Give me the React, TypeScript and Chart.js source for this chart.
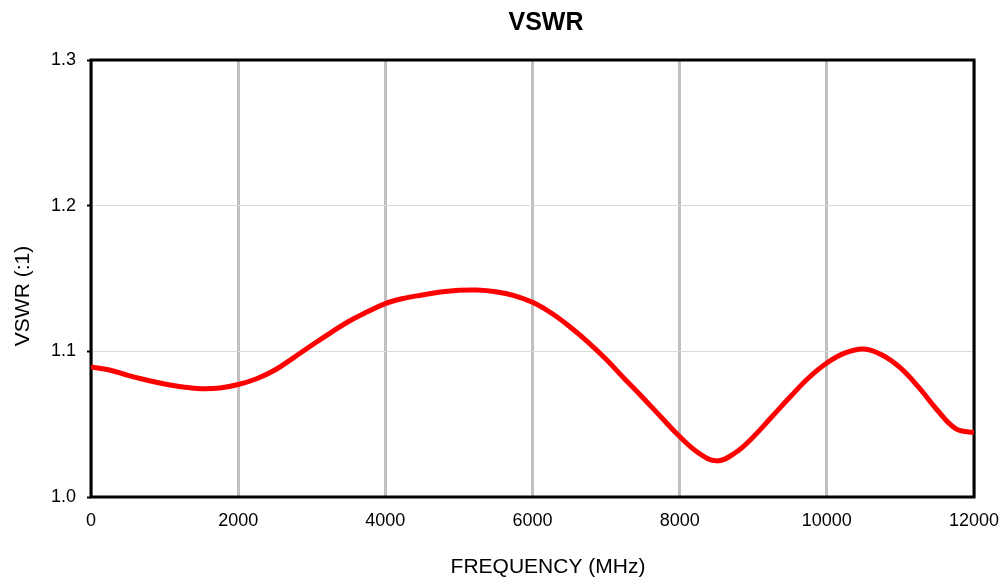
import React, { useEffect, useRef } from "react";
import { Chart, registerables } from "chart.js";

Chart.register(...registerables);

const frequencies: number[] = [
  0, 250, 500, 750, 1000, 1250, 1500, 1750, 2000, 2250, 2500, 2750, 3000, 3250, 3500, 3750,
  4000, 4250, 4500, 4750, 5000, 5250, 5500, 5750, 6000, 6250, 6500, 6750, 7000, 7250, 7500,
  7750, 8000, 8250, 8500, 8750, 9000, 9250, 9500, 9750, 10000, 10250, 10500, 10750, 11000,
  11250, 11500, 11750, 12000,
];

const vswrValues: number[] = [
  1.0892, 1.0872, 1.0835, 1.0803, 1.0776, 1.0755, 1.0743, 1.0748, 1.0772, 1.0812, 1.0872,
  1.0955, 1.1042, 1.1125, 1.1205, 1.127, 1.1328, 1.1364, 1.1387, 1.1407, 1.1419, 1.1421,
  1.1409, 1.1383, 1.1337, 1.1265, 1.1172, 1.1065, 1.0945, 1.0812, 1.0682, 1.0547, 1.0415,
  1.0305, 1.0248, 1.0302, 1.0412, 1.0549, 1.0686, 1.0817, 1.092, 1.0989, 1.1016, 1.0975,
  1.0886, 1.0752, 1.0597, 1.047, 1.0442,
];

const chartTitle = "VSWR";
const xAxisTitle = "FREQUENCY (MHz)";
const yAxisTitle = "VSWR (:1)";

const xMin = 0;
const xMax = 12000;
const xStep = 2000;
const yMin = 1.0;
const yMax = 1.3;
const yStep = 0.1;

const FONT = "'Liberation Sans', Arial, sans-serif";

const decorPlugin = {
  id: "decor",
  beforeDatasetsDraw(chart: any) {
    const { ctx, chartArea } = chart;
    ctx.save();
    ctx.strokeStyle = "#000000";
    ctx.lineWidth = 3;
    ctx.strokeRect(
      chartArea.left,
      chartArea.top,
      chartArea.right - chartArea.left,
      chartArea.bottom - chartArea.top
    );
    ctx.restore();
  },
  afterDraw(chart: any) {
    const { ctx } = chart;
    ctx.save();
    ctx.fillStyle = "#000000";
    ctx.textAlign = "center";
    ctx.textBaseline = "alphabetic";
    ctx.font = `bold 25px ${FONT}`;
    ctx.fillText(chartTitle, 546, 30);
    ctx.font = `21px ${FONT}`;
    ctx.fillText(xAxisTitle, 548, 573);
    ctx.translate(28.5, 296);
    ctx.rotate(-Math.PI / 2);
    ctx.fillText(yAxisTitle, 0, 0);
    ctx.restore();
  },
};

export default function App() {
  const canvasRef = useRef<HTMLCanvasElement | null>(null);

  useEffect(() => {
    if (!canvasRef.current) return;
    const data = frequencies.map((f, i) => ({ x: f, y: vswrValues[i] }));
    const chart = new Chart(canvasRef.current, {
      type: "line",
      data: {
        datasets: [
          {
            data,
            borderColor: "#ff0000",
            borderWidth: 5,
            pointRadius: 0,
            tension: 0.4,
            fill: false,
          },
        ],
      },
      options: {
        animation: false,
        responsive: true,
        maintainAspectRatio: false,
        layout: { padding: { left: 0, right: 32, top: 60, bottom: 0 } },
        plugins: {
          legend: { display: false },
          title: { display: false },
          tooltip: { enabled: false },
        },
        scales: {
          x: {
            type: "linear",
            min: xMin,
            max: xMax,
            afterFit(scale: any) {
              scale.height = 80;
              scale.paddingLeft = 0;
              scale.paddingRight = 0;
            },
            ticks: {
              stepSize: xStep,
              color: "#000000",
              font: { family: FONT, size: 18 },
              padding: 13,
              maxRotation: 0,
              callback: (v: any) => String(v),
            },
            grid: {
              color: "#c0c0c0",
              lineWidth: 3,
              drawTicks: false,
            },
            border: { display: false },
          },
          y: {
            type: "linear",
            min: yMin,
            max: yMax,
            afterFit(scale: any) {
              scale.width = 91;
              scale.paddingTop = 0;
              scale.paddingBottom = 0;
            },
            ticks: {
              stepSize: yStep,
              color: "#000000",
              font: { family: FONT, size: 18 },
              padding: 11,
              callback: (v: any) => Number(v).toFixed(1),
            },
            grid: {
              color: "#d9d9d9",
              lineWidth: 1,
              drawTicks: true,
              tickLength: 4,
              tickColor: "#000000",
              tickWidth: 2,
            },
            border: { display: false },
          },
        },
      },
      plugins: [decorPlugin],
    });
    return () => chart.destroy();
  }, []);

  return (
    <div
      style={{
        position: "fixed",
        left: 0,
        top: 0,
        width: 1006,
        height: 577,
        background: "#ffffff",
      }}
    >
      <canvas ref={canvasRef} />
    </div>
  );
}
